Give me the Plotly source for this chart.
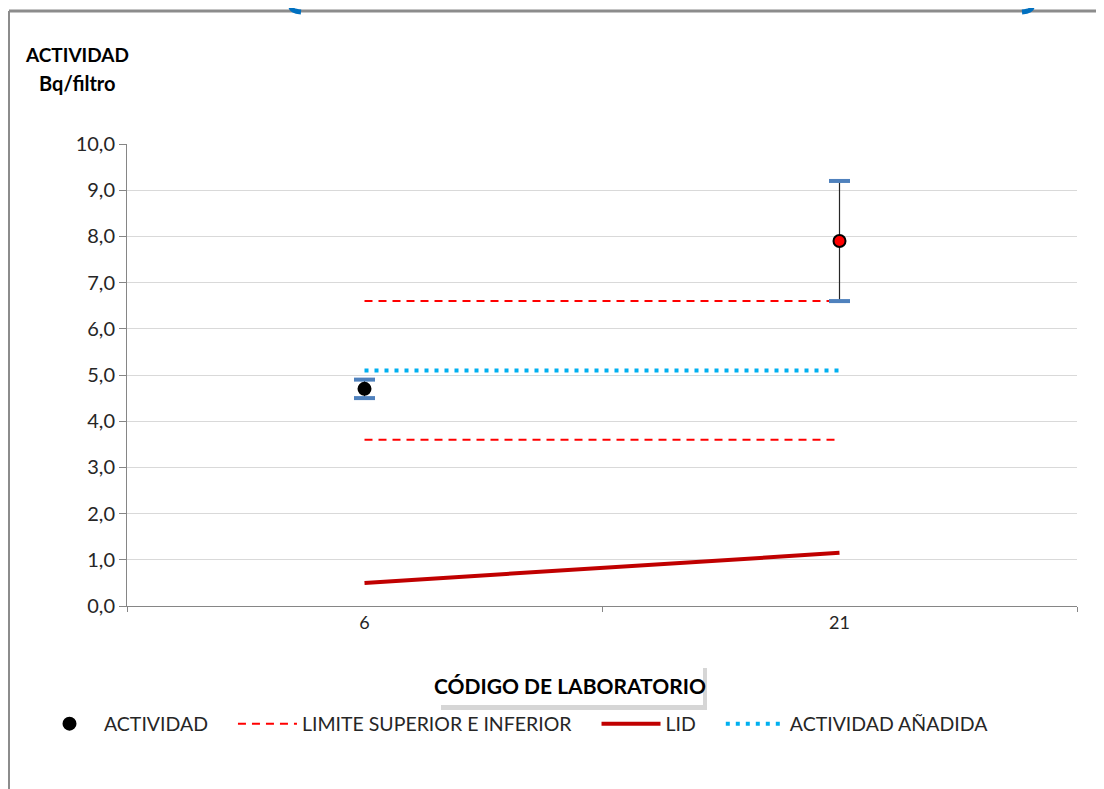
import plotly.graph_objects as go

labs = ["6", "21"]
actividad = [4.7, 7.9]
incert = [0.2, 1.3]
lim_sup = [6.6, 6.6]
lim_inf = [3.6, 3.6]
lid = [0.5, 1.15]
anadida = [5.1, 5.1]
marker_colors = ["black", "red"]
yticks = [0, 1, 2, 3, 4, 5, 6, 7, 8, 9, 10]
names = ["ACTIVIDAD", "LIMITE SUPERIOR E INFERIOR", "LID", "ACTIVIDAD AÑADIDA"]

FONT = "Lato, Open Sans, sans-serif"
OFF = 8  # page body margin
W, H = 1104, 789
L, R, T, B = 119, 35, 136, 191
PW, PH = W - L - R, H - T - B
PAD = "\u00a0" * 4

def px(x):
    return (x - OFF - L) / PW

def py(y):
    return (H - B - (y - OFF)) / PH

fig = go.Figure()

fig.add_trace(go.Scatter(x=labs, y=lim_sup, mode="lines", name=names[1] + PAD,
                         line=dict(color="#FF0000", width=2, dash="8px,6px"),
                         legendgroup="lim", legendrank=2))
fig.add_trace(go.Scatter(x=labs, y=lim_inf, mode="lines", name=names[1],
                         line=dict(color="#FF0000", width=2, dash="8px,6px"),
                         legendgroup="lim", showlegend=False))
fig.add_trace(go.Scatter(x=labs, y=lid, mode="lines", name=names[2] + PAD,
                         line=dict(color="#C00000", width=4), legendrank=3))
fig.add_trace(go.Scatter(x=labs, y=anadida, mode="lines", name=names[3],
                         line=dict(color="#00B0F0", width=4, dash="4px,6px"), legendrank=4))

# error bar stems
fig.add_trace(go.Scatter(x=labs, y=actividad, mode="markers", showlegend=False,
                         marker=dict(size=1, color="rgba(0,0,0,0)"),
                         error_y=dict(type="data", array=incert, visible=True,
                                      color="#262626", thickness=1.2, width=0),
                         hoverinfo="skip"))
# caps
caps_x = labs + labs
caps_y = [a + e for a, e in zip(actividad, incert)] + [a - e for a, e in zip(actividad, incert)]
fig.add_trace(go.Scatter(x=caps_x, y=caps_y, mode="markers", showlegend=False,
                         marker=dict(symbol="line-ew", size=15,
                                     line=dict(color="#4F81BD", width=4)),
                         hoverinfo="skip"))
fig.add_trace(go.Scatter(x=labs, y=actividad, mode="markers", name=names[0] + PAD,
                         marker=dict(size=12, color=marker_colors,
                                     line=dict(color="black", width=2)),
                         legendrank=1))

shapes = []
# outer border (gray) top and left
shapes.append(dict(type="line", xref="paper", yref="paper",
                   x0=px(9), x1=px(1120), y0=py(11), y1=py(11),
                   line=dict(color="#8C8C8C", width=3)))
shapes.append(dict(type="line", xref="paper", yref="paper",
                   x0=px(9), x1=px(9), y0=py(11), y1=py(800),
                   line=dict(color="#8C8C8C", width=2)))
# blue bracket fragments at top
shapes.append(dict(type="path", xref="paper", yref="paper",
                   path=f"M {px(291)} {py(7)} Q {px(291)} {py(11)} {px(301)} {py(12)}",
                   line=dict(color="#0070C0", width=5)))
shapes.append(dict(type="path", xref="paper", yref="paper",
                   path=f"M {px(1032)} {py(7)} Q {px(1032)} {py(11)} {px(1022)} {py(12)}",
                   line=dict(color="#0070C0", width=5)))
# x title box with shadow
shapes.append(dict(type="rect", xref="paper", yref="paper",
                   x0=px(441), x1=px(707), y0=py(668), y1=py(710),
                   fillcolor="rgba(0,0,0,0.16)", line=dict(width=0), layer="above"))
shapes.append(dict(type="rect", xref="paper", yref="paper",
                   x0=px(436), x1=px(703), y0=py(664), y1=py(705),
                   fillcolor="white", line=dict(width=0), layer="above"))

annotations = [
    dict(text="<b>ACTIVIDAD</b>", xref="paper", yref="paper", x=px(77), y=py(55),
         showarrow=False, font=dict(size=19, color="black", family=FONT), xanchor="center", yanchor="middle"),
    dict(text="<b>Bq/filtro</b>", xref="paper", yref="paper", x=px(77), y=py(83),
         showarrow=False, font=dict(size=20, color="black", family=FONT), xanchor="center", yanchor="middle"),
    dict(text="<b>CÓDIGO DE LABORATORIO</b>", xref="paper", yref="paper", x=px(570), y=py(685),
         showarrow=False, font=dict(size=21, color="black", family=FONT), xanchor="center", yanchor="middle"),
]

fig.update_layout(
    width=W, height=H,
    margin=dict(l=L, r=R, t=T, b=B, pad=0),
    paper_bgcolor="white", plot_bgcolor="white",
    separators=",.",
    font=dict(family=FONT, size=20, color="#262626"),
    shapes=shapes, annotations=annotations,
    showlegend=True,
    legend=dict(orientation="h", x=px(35), y=py(724), xanchor="left", yanchor="middle",
                font=dict(size=19.5, color="#262626", family=FONT),
                itemwidth=59, tracegroupgap=0, bgcolor="rgba(0,0,0,0)"),
    xaxis=dict(type="category", range=[-0.5, 1.5], showgrid=False,
               showline=True, linecolor="#868686", linewidth=1,
               ticks="outside", tickson="boundaries", ticklen=5, tickcolor="#868686",
               tickfont=dict(size=18, color="#262626", family=FONT), zeroline=False),
    yaxis=dict(range=[0, 10], tickvals=yticks, tickformat=".1f",
               showgrid=True, gridcolor="#D9D9D9", gridwidth=1,
               showline=True, linecolor="#868686", linewidth=1,
               ticks="outside", ticklen=7, tickcolor="#868686",
               tickfont=dict(size=20, color="#262626", family=FONT), zeroline=False),
)

fig.write_html("out.html")
